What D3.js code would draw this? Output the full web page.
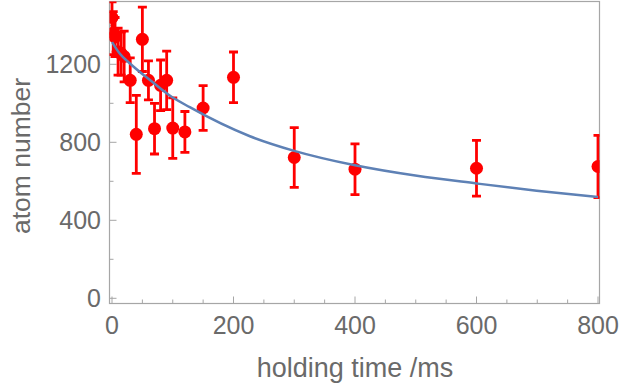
<!DOCTYPE html>
<html>
<head>
<meta charset="utf-8">
<script src="https://cdn.jsdelivr.net/npm/d3@7"></script>
<style>
html,body{margin:0;padding:0;background:#fff;}
svg{display:block;}
text{font-family:"Liberation Sans","Helvetica",Arial,sans-serif;fill:#6a6a6a;}
</style>
</head>
<body>
<svg id="chart" width="623" height="384"></svg>
<script>
// holding time (ms)
const times  = [0, 2, 5, 10, 15, 20, 30, 40, 50, 60, 70, 80, 90, 100, 120, 150, 200, 300, 400, 600, 800];
// atom number
const values = [1440, 1360, 1340, 1265, 1255, 1240, 1118, 841, 1328, 1118, 870, 1092, 1118, 873, 853, 976, 1133, 722, 662, 667, 676];
// error (±)
const errors = [80, 110, 100, 120, 110, 130, 115, 200, 165, 100, 130, 130, 150, 155, 105, 115, 130, 153, 130, 143, 160];
// fit curve
const fitT = [0, 13, 30, 63, 95, 128, 227, 300, 400, 502, 600, 699, 800];
const fitV = [1314, 1254, 1203, 1118, 1040, 980, 831, 756, 682, 628, 589, 552, 520];

const xMajor = [0, 200, 400, 600, 800];
const xMinor = [50, 100, 150, 250, 300, 350, 450, 500, 550, 650, 700, 750];
const yMajor = [0, 400, 800, 1200];
const yMinor = [200, 600, 1000, 1400];

const svg = d3.select("#chart");
const frame = {left: 109.5, right: 599.5, top: 1.5, bottom: 303.5};

const x = d3.scaleLinear().domain([0, 800]).range([112, 598]);
const y = d3.scaleLinear().domain([0, 1200]).range([298.3, 64.3]);

svg.append("defs").append("clipPath").attr("id", "clip")
  .append("rect")
  .attr("x", frame.left).attr("y", frame.top)
  .attr("width", frame.right - frame.left).attr("height", frame.bottom - frame.top);

const frameColor = "#a6a6a6";

// ticks
const g = svg.append("g");
g.selectAll(".xt").data(xMajor).enter().append("line")
  .attr("x1", d => x(d)).attr("x2", d => x(d))
  .attr("y1", frame.bottom).attr("y2", frame.bottom - 7)
  .attr("stroke", frameColor).attr("stroke-width", 1);
g.selectAll(".xm").data(xMinor).enter().append("line")
  .attr("x1", d => x(d)).attr("x2", d => x(d))
  .attr("y1", frame.bottom).attr("y2", frame.bottom - 4)
  .attr("stroke", frameColor).attr("stroke-width", 1);
g.selectAll(".yt").data(yMajor).enter().append("line")
  .attr("y1", d => y(d)).attr("y2", d => y(d))
  .attr("x1", frame.left).attr("x2", frame.left + 7)
  .attr("stroke", frameColor).attr("stroke-width", 1);
g.selectAll(".ym").data(yMinor).enter().append("line")
  .attr("y1", d => y(d)).attr("y2", d => y(d))
  .attr("x1", frame.left).attr("x2", frame.left + 4)
  .attr("stroke", frameColor).attr("stroke-width", 1);

// frame
svg.append("rect")
  .attr("x", frame.left).attr("y", frame.top)
  .attr("width", frame.right - frame.left).attr("height", frame.bottom - frame.top)
  .attr("fill", "none").attr("stroke", frameColor).attr("stroke-width", 1.2);

// tick labels
svg.selectAll(".xl").data(xMajor).enter().append("text")
  .attr("x", d => x(d)).attr("y", 334)
  .attr("text-anchor", "middle").attr("font-size", 25)
  .text(d => d);
svg.selectAll(".yl").data(yMajor).enter().append("text")
  .attr("x", 101).attr("y", d => y(d)).attr("dy", "0.36em")
  .attr("text-anchor", "end").attr("font-size", 25)
  .text(d => d);

// axis titles
svg.append("text")
  .attr("x", 355).attr("y", 377)
  .attr("text-anchor", "middle").attr("font-size", 27)
  .text("holding time /ms");
svg.append("text")
  .attr("transform", "translate(30,156) rotate(-90)")
  .attr("text-anchor", "middle").attr("font-size", 26.5)
  .text("atom number");

// data
const data = times.map((t, i) => ({t, v: values[i], e: errors[i]}));
const plot = svg.append("g").attr("clip-path", "url(#clip)");
const red = "#ff0000";
const capW = 4.5;

const eb = plot.selectAll(".eb").data(data).enter().append("g");
eb.append("line")
  .attr("x1", d => x(d.t)).attr("x2", d => x(d.t))
  .attr("y1", d => y(d.v + d.e)).attr("y2", d => y(d.v - d.e))
  .attr("stroke", red).attr("stroke-width", 2.8);
eb.append("line")
  .attr("x1", d => x(d.t) - capW).attr("x2", d => x(d.t) + capW)
  .attr("y1", d => y(d.v + d.e)).attr("y2", d => y(d.v + d.e))
  .attr("stroke", red).attr("stroke-width", 2.8);
eb.append("line")
  .attr("x1", d => x(d.t) - capW).attr("x2", d => x(d.t) + capW)
  .attr("y1", d => y(d.v - d.e)).attr("y2", d => y(d.v - d.e))
  .attr("stroke", red).attr("stroke-width", 2.8);
plot.selectAll(".pt").data(data).enter().append("circle")
  .attr("cx", d => x(d.t)).attr("cy", d => y(d.v)).attr("r", 6.5)
  .attr("fill", red);

// fit curve
const fit = fitT.map((t, i) => [t, fitV[i]]);
plot.append("path")
  .datum(fit)
  .attr("d", d3.line().x(d => x(d[0])).y(d => y(d[1])).curve(d3.curveMonotoneX))
  .attr("fill", "none").attr("stroke", "#5e81b5").attr("stroke-width", 2.5);
</script>
</body>
</html>
